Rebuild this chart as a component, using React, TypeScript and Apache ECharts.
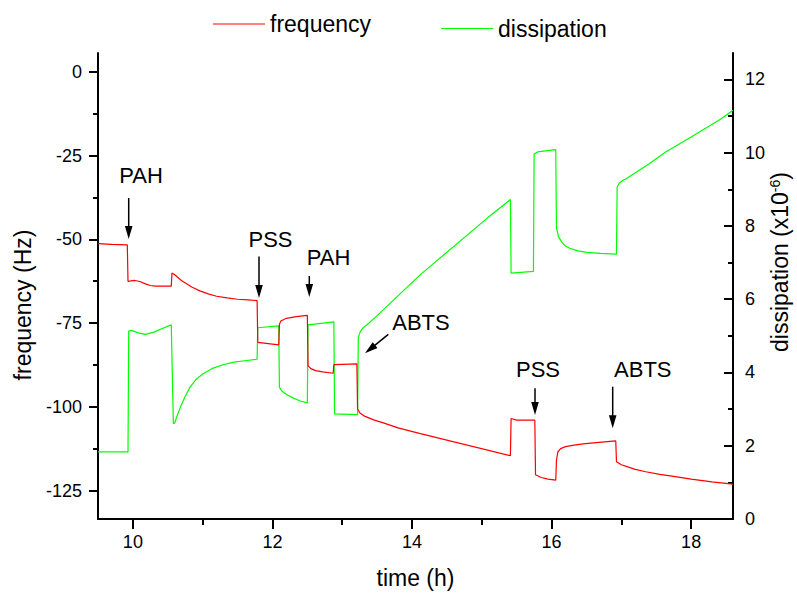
import React, { useEffect, useRef } from "react";
import * as echarts from "echarts";

// ---- data ----
const freqTime = [
  9.5, 9.7, 9.92, 9.93, 9.97, 10.03, 10.1, 10.18, 10.25, 10.32, 10.55,
  10.56, 10.6, 10.65, 10.7, 10.77, 10.85, 10.96, 11.08, 11.2, 11.35, 11.5, 11.65, 11.78,
  11.79, 12.09,
  12.1, 12.12, 12.2, 12.34, 12.5,
  12.51, 12.55, 12.62, 12.72, 12.87,
  12.88, 13.21,
  13.22, 13.25, 13.32, 13.45, 13.6, 13.8, 14.12, 15.41,
  15.42, 15.5, 15.76,
  15.77, 15.85, 15.95, 16.06,
  16.07, 16.09, 16.13, 16.2, 16.3, 16.45, 16.64, 16.92,
  16.93, 17.0, 17.07, 17.2, 17.35, 17.55, 17.75, 18.0, 18.3, 18.6,
];
const freqValues = [
  -51.3, -51.5, -51.7, -62.6, -62.4, -62.3, -62.6, -63.3, -63.8, -64.0, -64.0,
  -60.1, -60.6, -61.5, -62.4, -63.3, -64.3, -65.4, -66.3, -67.0, -67.5, -67.9, -68.1, -68.3,
  -80.8, -81.5,
  -75.4, -74.4, -73.6, -73.1, -72.7,
  -87.7, -88.6, -89.2, -89.6, -90.0,
  -87.4, -87.2,
  -100.6, -101.8, -102.8, -103.9, -104.9, -106.3, -108.0, -114.6,
  -103.5, -104.0, -104.0,
  -120.3, -121.1, -121.6, -121.9,
  -116.0, -113.5, -112.5, -111.9, -111.5, -111.1, -110.7, -110.2,
  -116.4, -117.3, -117.8, -118.7, -119.4, -120.2, -120.8, -121.6, -122.4, -123.1,
];
const dissTime = [
  9.5, 9.93,
  9.94, 9.98, 10.08, 10.18, 10.3, 10.42, 10.55,
  10.58, 10.6, 10.63, 10.68, 10.75, 10.82, 10.9, 11.0, 11.15, 11.29, 11.45, 11.6, 11.78,
  11.79, 12.09,
  12.1, 12.13, 12.2, 12.3, 12.4, 12.5,
  12.51, 12.88,
  12.89, 13.22,
  13.23, 13.26, 13.3, 13.36, 13.5, 14.12, 15.07, 15.41,
  15.42, 15.74,
  15.75, 15.8, 15.91, 16.06,
  16.07, 16.1, 16.15, 16.2, 16.26, 16.38, 16.5, 16.7, 16.93,
  16.94, 16.97, 17.02, 17.07, 17.2, 17.4, 17.63, 18.0, 18.42, 18.6,
];
const dissValues = [
  1.83, 1.83,
  5.13, 5.15, 5.08, 5.04, 5.1, 5.2, 5.3,
  2.6, 2.62, 2.8, 3.05, 3.35, 3.6, 3.8, 3.96, 4.12, 4.21, 4.28, 4.32, 4.36,
  5.22, 5.27,
  3.6, 3.5, 3.4, 3.3, 3.22, 3.17,
  5.3, 5.38,
  2.87, 2.85,
  4.95, 5.12, 5.22, 5.31, 5.55, 6.67, 8.2, 8.72,
  6.71, 6.76,
  9.96, 10.02, 10.05, 10.08,
  7.95, 7.7, 7.55, 7.45, 7.39, 7.32, 7.28, 7.25, 7.23,
  9.06, 9.17, 9.24, 9.29, 9.45, 9.7, 10.01, 10.43, 10.91, 11.16,
];

const xTicks = [10, 12, 14, 16, 18];
const xMinorTicks = [11, 13, 15, 17];
const freqTicks = [-125, -100, -75, -50, -25, 0];
const freqMinorTicks = [-112.5, -87.5, -62.5, -37.5, -12.5];
const dissTicks = [0, 2, 4, 6, 8, 10, 12];
const dissMinorTicks = [1, 3, 5, 7, 9, 11];

const seriesNames = ["frequency", "dissipation"];
const annotationLabels = ["PAH", "PSS", "PAH", "ABTS", "PSS", "ABTS"];

// ---- layout of annotations (pixels) ----
const annotationLayout = [
  { tx: 141, ty: 175, x1: 128.7, y1: 198, x2: 128.7, y2: 239 },
  { tx: 270.5, ty: 239, x1: 259, y1: 256.5, x2: 259, y2: 298 },
  { tx: 328.5, ty: 257.5, x1: 309.3, y1: 276, x2: 309.3, y2: 297 },
  { tx: 421, ty: 322, x1: 388.3, y1: 334.3, x2: 365, y2: 353.3 },
  { tx: 538, ty: 369, x1: 535, y1: 388.3, x2: 535, y2: 415 },
  { tx: 642.8, ty: 369, x1: 612.7, y1: 386.7, x2: 612.7, y2: 428.3 },
];

const FONT = "'Liberation Sans', Arial, Helvetica, sans-serif";

function arrow(x1: number, y1: number, x2: number, y2: number) {
  const dx = x2 - x1;
  const dy = y2 - y1;
  const L = Math.hypot(dx, dy);
  const ux = dx / L;
  const uy = dy / L;
  const hl = 13;
  const hw = 3.8;
  const bx = x2 - ux * hl;
  const by = y2 - uy * hl;
  const px = -uy;
  const py = ux;
  return [
    {
      type: "line",
      shape: { x1, y1, x2: bx + ux * 2, y2: by + uy * 2 },
      style: { stroke: "#000", lineWidth: 1.5 },
      silent: true,
    },
    {
      type: "polygon",
      shape: {
        points: [
          [x2, y2],
          [bx + px * hw, by + py * hw],
          [bx - px * hw, by - py * hw],
        ],
      },
      style: { fill: "#000" },
      silent: true,
    },
  ];
}

export default function App() {
  const ref = useRef<HTMLDivElement>(null);

  useEffect(() => {
    document.body.style.margin = "0";
    if (!ref.current) return;
    const chart = echarts.init(ref.current, undefined, { renderer: "svg" });

    const freqData = freqTime.map((t, i) => [t, freqValues[i]]);
    const dissData = dissTime.map((t, i) => [t, dissValues[i]]);

    const axisLineStyle = { color: "#000", width: 2 };
    const tickStyle = { color: "#000", width: 2 };
    const labelStyle = { color: "#000", fontSize: 18, fontFamily: FONT };

    const graphics: any[] = [];
    annotationLabels.forEach((label, i) => {
      const a = annotationLayout[i];
      graphics.push({
        type: "text",
        x: a.tx,
        y: a.ty,
        silent: true,
        style: {
          text: label,
          fontSize: 22,
          fontFamily: FONT,
          fill: "#000",
          align: "center",
          verticalAlign: "middle",
        },
      });
      graphics.push(...arrow(a.x1, a.y1, a.x2, a.y2));
    });
    graphics.push({
      type: "text",
      x: 23,
      y: 305,
      rotation: Math.PI / 2,
      silent: true,
      style: {
        text: "frequency (Hz)",
        fontSize: 23,
        fontFamily: FONT,
        fill: "#000",
        align: "center",
        verticalAlign: "middle",
      },
    });
    graphics.push({
      type: "text",
      x: 780,
      y: 262,
      rotation: Math.PI / 2,
      silent: true,
      style: {
        text: "dissipation (x10{sup|-6})",
        fontSize: 23,
        fontFamily: FONT,
        fill: "#000",
        align: "center",
        verticalAlign: "middle",
        rich: {
          sup: {
            fontSize: 14,
            fontFamily: FONT,
            fill: "#000",
            verticalAlign: "top",
            padding: [0, 0, 10, 0],
          },
        },
      },
    });

    const legendCommon = {
      icon: "rect",
      itemWidth: 52,
      itemHeight: 1.2,
      padding: 0,
      textStyle: { fontSize: 23, color: "#000", fontFamily: FONT },
    };

    chart.setOption({
      animation: false,
      backgroundColor: "#fff",
      textStyle: { fontFamily: FONT },
      grid: { left: 98, right: 64, top: 53, bottom: 71, containLabel: false },
      legend: [
        { data: [seriesNames[0]], left: 213, top: 12.5, ...legendCommon },
        { data: [seriesNames[1]], left: 441, top: 17, ...legendCommon },
      ],
      xAxis: [
        {
          type: "value",
          min: 9.5,
          max: 18.6,
          position: "bottom",
          axisLine: { show: true, onZero: false, lineStyle: axisLineStyle },
          axisTick: { show: true, customValues: xTicks, length: 10, lineStyle: tickStyle },
          axisLabel: { customValues: xTicks, margin: 14, ...labelStyle },
          splitLine: { show: false },
          name: "time (h)",
          nameLocation: "middle",
          nameGap: 47,
          nameTextStyle: { fontSize: 23, color: "#000", fontFamily: FONT },
        },
        {
          type: "value",
          min: 9.5,
          max: 18.6,
          position: "bottom",
          axisLine: { show: false, onZero: false },
          axisTick: { show: true, customValues: xMinorTicks, length: 6, lineStyle: tickStyle },
          axisLabel: { show: false },
          splitLine: { show: false },
        },
      ],
      yAxis: [
        {
          type: "value",
          min: -133.5,
          max: 5.6,
          position: "left",
          axisLine: { show: true, onZero: false, lineStyle: axisLineStyle },
          axisTick: { show: true, customValues: freqTicks, length: 9, lineStyle: tickStyle },
          axisLabel: { customValues: freqTicks, margin: 16, ...labelStyle },
          splitLine: { show: false },
        },
        {
          type: "value",
          min: 0,
          max: 12.72,
          position: "right",
          axisLine: { show: true, onZero: false, lineStyle: axisLineStyle },
          axisTick: { show: true, inside: true, customValues: dissTicks, length: 9, lineStyle: tickStyle },
          axisLabel: { customValues: dissTicks, margin: 12, ...labelStyle },
          splitLine: { show: false },
        },
        {
          type: "value",
          min: -133.5,
          max: 5.6,
          position: "left",
          axisLine: { show: false, onZero: false },
          axisTick: { show: true, customValues: freqMinorTicks, length: 5, lineStyle: tickStyle },
          axisLabel: { show: false },
          splitLine: { show: false },
        },
        {
          type: "value",
          min: 0,
          max: 12.72,
          position: "right",
          axisLine: { show: false, onZero: false },
          axisTick: { show: true, inside: true, customValues: dissMinorTicks, length: 5, lineStyle: tickStyle },
          axisLabel: { show: false },
          splitLine: { show: false },
        },
      ],
      series: [
        {
          name: seriesNames[0],
          type: "line",
          xAxisIndex: 0,
          yAxisIndex: 0,
          data: freqData,
          showSymbol: false,
          symbol: "none",
          lineStyle: { color: "#ff0000", width: 1.2 },
          itemStyle: { color: "#ff0000" },
          z: 3,
        },
        {
          name: seriesNames[1],
          type: "line",
          xAxisIndex: 0,
          yAxisIndex: 1,
          data: dissData,
          showSymbol: false,
          symbol: "none",
          lineStyle: { color: "#00ff00", width: 1.2 },
          itemStyle: { color: "#00ff00" },
          z: 2,
        },
      ],
      graphic: graphics,
    });

    return () => chart.dispose();
  }, []);

  return <div ref={ref} style={{ width: 797, height: 594 }} />;
}
